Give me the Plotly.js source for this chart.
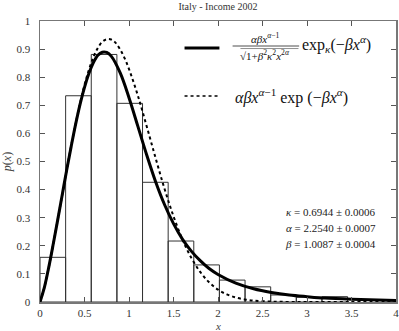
<!DOCTYPE html>
<html>
<head>
<meta charset="utf-8">
<script src="https://cdn.plot.ly/plotly-3.0.1.min.js"></script>
<style>
  html, body { margin: 0; padding: 0; background: #fff; }
  #chart { width: 399px; height: 331px; }
</style>
</head>
<body>
<div id="chart"></div>
<script>
// Histograma de la renta (Italia 2002): borde izquierdo de cada clase y densidad
const binLeft = [0, 0.288, 0.576, 0.864, 1.152, 1.44, 1.728, 2.016, 2.304, 2.592, 2.88, 3.168];
const binWidth = 0.288;
const binHeight = [0.159, 0.734, 0.881, 0.707, 0.426, 0.217, 0.132, 0.078, 0.054, 0.025, 0.017, 0.019];

// Ajuste kappa (línea continua)
const kappaX = [0, 0.05, 0.1, 0.15, 0.2, 0.25, 0.3, 0.35, 0.4, 0.45, 0.5, 0.55, 0.6, 0.65, 0.7, 0.75, 0.8,
  0.9, 1.0, 1.1, 1.2, 1.3, 1.4, 1.5, 1.6, 1.7, 1.8, 1.9, 2.0, 2.2, 2.4, 2.6, 2.8, 3.0, 3.2, 3.5, 3.8, 4.0];
const kappaY = [0, 0.053, 0.126, 0.208, 0.294, 0.382, 0.470, 0.553, 0.632, 0.703, 0.764, 0.814, 0.852, 0.878, 0.889, 0.888, 0.875,
  0.816, 0.727, 0.625, 0.522, 0.427, 0.346, 0.279, 0.224, 0.181, 0.147, 0.119, 0.098, 0.067, 0.047, 0.034, 0.025, 0.019, 0.014, 0.0097, 0.0069, 0.0055];

// Ajuste Weibull (punteado)
const weibX = [0, 0.05, 0.1, 0.15, 0.2, 0.25, 0.3, 0.35, 0.4, 0.45, 0.5, 0.55, 0.6, 0.65, 0.7, 0.75, 0.8, 0.85, 0.9, 0.95,
  1.0, 1.1, 1.2, 1.3, 1.4, 1.5, 1.6, 1.7, 1.8, 1.9, 2.0, 2.1, 2.2, 2.3, 2.4, 2.6, 2.8, 3.0, 3.5, 4.0];
const weibY = [0, 0.053, 0.126, 0.208, 0.294, 0.382, 0.470, 0.555, 0.634, 0.707, 0.772, 0.827, 0.871, 0.904, 0.926, 0.935, 0.934, 0.922, 0.899, 0.868,
  0.829, 0.734, 0.624, 0.511, 0.402, 0.305, 0.223, 0.157, 0.107, 0.070, 0.044, 0.027, 0.016, 0.0089, 0.0048, 0.0013, 0.0003, 0.0001, 0, 0];

// Parámetros del ajuste
const paramNames = ['κ', 'α', 'β'];
const paramValues = ['0.6944', '2.2540', '1.0087'];
const paramErrors = ['0.0006', '0.0007', '0.0004'];

const xTicks = [0, 0.5, 1, 1.5, 2, 2.5, 3, 3.5, 4];
const yTicks = [0, 0.1, 0.2, 0.3, 0.4, 0.5, 0.6, 0.7, 0.8, 0.9, 1];

const SERIF = 'Liberation Serif';

const histograma = {
  type: 'bar',
  x: binLeft,
  y: binHeight,
  width: binLeft.map(() => binWidth),
  offset: 0,
  marker: { color: 'rgba(0,0,0,0)', line: { color: '#333', width: 1 } },
  showlegend: false,
  hoverinfo: 'skip',
};

const curvaKappa = {
  type: 'scatter',
  mode: 'lines',
  x: kappaX,
  y: kappaY,
  line: { color: '#000', width: 3, shape: 'spline' },
  name: 'kappa',
  showlegend: false,
};

const curvaWeibull = {
  type: 'scatter',
  mode: 'lines',
  x: weibX,
  y: weibY,
  line: { color: '#000', width: 2, dash: 'dot', shape: 'spline' },
  name: 'weibull',
  showlegend: false,
};

// Leyenda a mano: muestras de línea + fórmulas (la primera lleva fracción)
const txt = (x, y, text, size, anchor, color) => ({
  x, y, xref: 'paper', yref: 'paper', xanchor: anchor || 'left', yanchor: 'middle',
  text, showarrow: false, font: { family: SERIF, size, color: color || '#111' },
});

const anotaciones = [
  txt(0.633, 0.94, '<i>αβx</i><sup><i>α</i>−1</sup>', 11, 'center'),
  txt(0.633, 0.878, '√1+<i>β</i><sup>2</sup><i>κ</i><sup>2</sup><i>x</i><sup>2<i>α</i></sup>', 11, 'center'),
  txt(0.731, 0.918, 'exp<sub><i>κ</i></sub>(−<i>βx</i><sup><i>α</i></sup>)', 16),
  txt(0.543, 0.733, '<i>αβx</i><sup><i>α</i>−1</sup> exp (−<i>βx</i><sup><i>α</i></sup>)', 16),
  // título del eje x (como anotación para poder bajarlo)
  txt(0.5, -0.086, '<i>x</i>', 11, 'center', '#444'),
].concat(paramNames.map((p, i) => ({
  x: 3.8,
  y: 0.32 - i * 0.057,
  xref: 'x',
  yref: 'y',
  xanchor: 'right',
  text: `<i>${p}</i> = ${paramValues[i]} ± ${paramErrors[i]}`,
  showarrow: false,
  font: { family: SERIF, size: 11, color: '#222' },
})));

const formas = [
  { type: 'line', xref: 'paper', yref: 'paper', x0: 0.406, x1: 0.504, y0: 0.904, y1: 0.904, line: { color: '#000', width: 3 } },
  { type: 'line', xref: 'paper', yref: 'paper', x0: 0.406, x1: 0.504, y0: 0.733, y1: 0.733, line: { color: '#000', width: 1.5, dash: 'dot' } },
  { type: 'line', xref: 'paper', yref: 'paper', x0: 0.541, x1: 0.728, y0: 0.911, y1: 0.911, line: { color: '#222', width: 0.8 } },
  { type: 'line', xref: 'paper', yref: 'paper', x0: 0.563, x1: 0.726, y0: 0.902, y1: 0.902, line: { color: '#444', width: 0.6 } },
];

const ejeComun = {
  showgrid: false,
  zeroline: false,
  showline: true,
  linecolor: '#777',
  linewidth: 1.5,
  mirror: 'ticks',
  ticks: 'inside',
  ticklen: 5,
  tickcolor: '#555',
  ticklabeloverflow: 'allow',
  tickfont: { family: SERIF, size: 11, color: '#333' },
};

const layout = {
  width: 399,
  height: 331,
  margin: { l: 40, r: 3, t: 21, b: 29 },
  paper_bgcolor: '#fff',
  plot_bgcolor: '#fff',
  showlegend: false,
  title: {
    text: 'Italy - Income 2002',
    x: 0.5,
    xref: 'paper',
    y: 0.992,
    yanchor: 'top',
    font: { family: SERIF, size: 10, color: '#333' },
  },
  xaxis: Object.assign({}, ejeComun, {
    range: [0, 4],
    tickvals: xTicks,
    ticktext: xTicks.map(String),
  }),
  yaxis: Object.assign({}, ejeComun, {
    range: [0, 1],
    tickvals: yTicks,
    ticktext: yTicks.map(String),
    ticklabelstandoff: 6,
    title: { text: '<i>p</i>(<i>x</i>)', standoff: 6, font: { family: SERIF, size: 12, color: '#444' } },
  }),
  shapes: formas,
  annotations: anotaciones,
};

Plotly.newPlot('chart', [histograma, curvaKappa, curvaWeibull], layout, { displayModeBar: false, staticPlot: true });
</script>
</body>
</html>
